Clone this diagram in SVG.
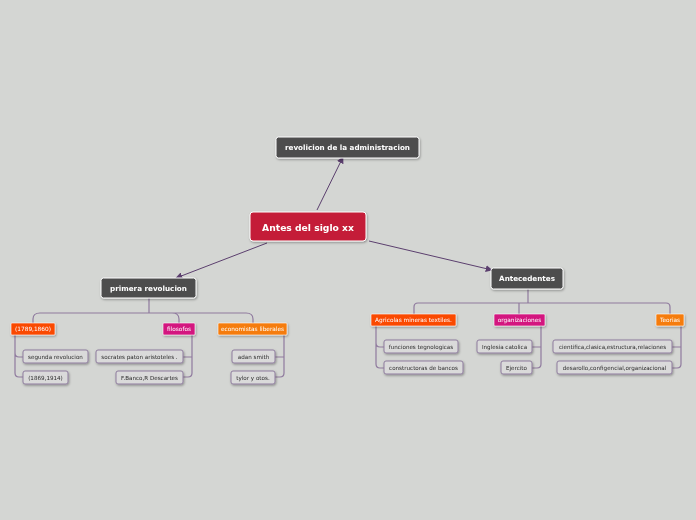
<svg xmlns="http://www.w3.org/2000/svg" width="696" height="520" viewBox="0 0 696 520">
<defs>
<style>
text{font-family:"DejaVu Sans","Liberation Sans",sans-serif;text-anchor:middle;dominant-baseline:central}
.main{fill:#4e4e4e;stroke:#fff;stroke-width:1}
.t1{fill:#fff;font-weight:bold;font-size:7.2px}
.cat{stroke:#fff;stroke-width:0.6}
.t2{fill:#fff;font-size:5.8px}
.sub{fill:#dadada;stroke:#8f7d9e;stroke-width:1}
.t3{fill:#2a2a2a;font-size:5.6px}
.arrow{stroke:#5b3f6e;stroke-width:1;fill:none;marker-end:url(#ah)}
.tree{stroke:#8f7a9e;stroke-width:1.2;fill:none}
</style>
<marker id="ah" viewBox="0 0 10 10" refX="9" refY="5" markerWidth="7" markerHeight="7" orient="auto"><path d="M0,0 L10,5 L0,10 z" fill="#5b3f6e"/></marker>
<filter id="sh" x="-20%" y="-30%" width="140%" height="170%"><feDropShadow dx="0.8" dy="1.2" stdDeviation="0.8" flood-color="#000" flood-opacity="0.35"/></filter>
</defs>
<rect width="696" height="520" fill="#d4d6d3"/>
<g id="connectors">
<path class="arrow" d="M317,210 L343,157"/>
<path class="arrow" d="M267,243 L176,278"/>
<path class="arrow" d="M369,241 L492,270"/>
<path class="tree" d="M149,298 V313 M40,313 H246 M40,313 Q33,313 33,319 V323 M246,313 Q253,313 253,319 V323 M172,313 Q179,313 179,319 V323"/>
<path class="tree" d="M15,335 V353 Q15,357 19,357 H23 M15,353 V373 Q15,377 19,377 H23"/>
<path class="tree" d="M192,335 V373 Q192,377 188,377 H183 M192,357 H183"/>
<path class="tree" d="M284,335 V373 Q284,377 280,377 H275 M284,357 H275"/>
<path class="tree" d="M528,289 V303 M418,303 H666 M418,303 Q414,303 414,307 V314 M666,303 Q670,303 670,307 V314 M519,303 V314"/>
<path class="tree" d="M376,326 V343 Q376,347 380,347 H384 M376,343 V364 Q376,368 380,368 H384"/>
<path class="tree" d="M541,326 V364 Q541,368 537,368 H532 M541,347 H532"/>
<path class="tree" d="M681,326 V364 Q681,368 677,368 H672 M681,347 H672"/>
</g>
<g id="n-central" filter="url(#sh)"><rect x="250" y="212" width="116" height="29" rx="3" fill="#c41f37" stroke="#fff" stroke-width="1"/><text x="308" y="227" fill="#fff" font-weight="bold" font-size="9.2px">Antes del siglo xx</text></g>
<g id="n-revolicion" filter="url(#sh)"><rect class="main" x="276" y="137" width="143" height="21" rx="2.5"/><text class="t1" x="347.5" y="147.5">revolicion de la administracion</text></g>
<g id="n-primera" filter="url(#sh)"><rect class="main" x="101" y="278" width="95" height="20" rx="2.5"/><text class="t1" x="148.5" y="288">primera revolucion</text></g>
<g id="n-antecedentes" filter="url(#sh)"><rect class="main" x="491" y="268" width="72" height="21" rx="2.5"/><text class="t1" x="527" y="278.5">Antecedentes</text></g>
<g id="n-1789" filter="url(#sh)"><rect class="cat" x="11" y="323" width="44" height="12" rx="1" fill="#fa4a05"/><text class="t2" x="33" y="329">(1789,1860)</text></g>
<g id="n-filosofos" filter="url(#sh)"><rect class="cat" x="163" y="323" width="32" height="12" rx="1" fill="#d3177f"/><text class="t2" x="179" y="329">filosofos</text></g>
<g id="n-economistas" filter="url(#sh)"><rect class="cat" x="218" y="323" width="69" height="12" rx="1" fill="#f57c0c"/><text class="t2" x="252.5" y="329">economistas liberales</text></g>
<g id="n-segunda" filter="url(#sh)"><rect class="sub" x="23" y="350" width="65" height="13" rx="2"/><text class="t3" x="55.5" y="356.5">segunda revolucion</text></g>
<g id="n-1869" filter="url(#sh)"><rect class="sub" x="23" y="371" width="45" height="13" rx="2"/><text class="t3" x="45.5" y="377.5">(1869,1914)</text></g>
<g id="n-socrates" filter="url(#sh)"><rect class="sub" x="96" y="350" width="87" height="13" rx="2"/><text class="t3" x="139.5" y="356.5">socrates paton aristoteles .</text></g>
<g id="n-fbanco" filter="url(#sh)"><rect class="sub" x="116" y="371" width="67" height="13" rx="2"/><text class="t3" x="149.5" y="377.5">F.Banco,R Descartes</text></g>
<g id="n-adan" filter="url(#sh)"><rect class="sub" x="232" y="350" width="43" height="13" rx="2"/><text class="t3" x="253.5" y="356.5">adan smith</text></g>
<g id="n-tylor" filter="url(#sh)"><rect class="sub" x="231" y="371" width="44" height="13" rx="2"/><text class="t3" x="253" y="377.5">tylor y otos.</text></g>
<g id="n-agricolas" filter="url(#sh)"><rect class="cat" x="371" y="314" width="85" height="12" rx="1" fill="#fa4a05"/><text class="t2" x="413.5" y="320">Agricolas mineras textiles.</text></g>
<g id="n-organizaciones" filter="url(#sh)"><rect class="cat" x="494" y="314" width="51" height="12" rx="1" fill="#d3177f"/><text class="t2" x="519.5" y="320">organizaciones</text></g>
<g id="n-teorias" filter="url(#sh)"><rect class="cat" x="656" y="314" width="28" height="12" rx="1" fill="#f57c0c"/><text class="t2" x="670" y="320">Teorias</text></g>
<g id="n-funciones" filter="url(#sh)"><rect class="sub" x="384" y="340" width="74" height="13" rx="2"/><text class="t3" x="421" y="346.5">funciones tegnologicas</text></g>
<g id="n-constructoras" filter="url(#sh)"><rect class="sub" x="384" y="361" width="79" height="13" rx="2"/><text class="t3" x="423.5" y="367.5">constructoras de bancos</text></g>
<g id="n-inglesia" filter="url(#sh)"><rect class="sub" x="477" y="340" width="55" height="13" rx="2"/><text class="t3" x="504.5" y="346.5">Inglesia catolica</text></g>
<g id="n-ejercito" filter="url(#sh)"><rect class="sub" x="501" y="361" width="31" height="13" rx="2"/><text class="t3" x="516.5" y="367.5">Ejercito</text></g>
<g id="n-cientifica" filter="url(#sh)"><rect class="sub" x="553" y="340" width="119" height="13" rx="2"/><text class="t3" x="612.5" y="346.5">cientifica,clasica,estructura,relaciones</text></g>
<g id="n-desarollo" filter="url(#sh)"><rect class="sub" x="557" y="361" width="115" height="13" rx="2"/><text class="t3" x="614.5" y="367.5">desarollo,configencial,organizacional</text></g>
</svg>
